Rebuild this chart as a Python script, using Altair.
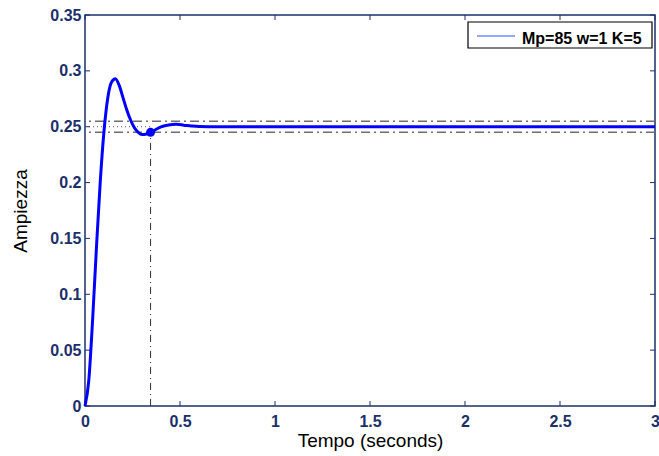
import altair as alt
import pandas as pd

# ---- data ----
time_s = [0.00, 0.02, 0.04, 0.06, 0.08, 0.10, 0.12, 0.14, 0.16, 0.18,
          0.20, 0.22, 0.24, 0.26, 0.28, 0.30, 0.32, 0.34, 0.36, 0.38,
          0.40, 0.44, 0.48, 0.52, 0.56, 0.60, 0.70, 0.80, 1.00, 1.50,
          2.00, 2.50, 3.00]
amplitude = [0.000, 0.023, 0.077, 0.141, 0.200, 0.246, 0.276, 0.290, 0.293, 0.287,
             0.276, 0.265, 0.256, 0.249, 0.245, 0.243, 0.2432, 0.2445, 0.2463, 0.2482,
             0.2498, 0.2516, 0.2521, 0.2514, 0.2506, 0.2501, 0.2499, 0.2500, 0.2500, 0.2500,
             0.2500, 0.2500, 0.2500]
series_label = "Mp=85 w=1 K=5"
final_value = [0.25]
band_levels = [0.255, 0.245]
settle_time = [0.345]
settle_value = [0.245]
x_ticks = [0, 0.5, 1, 1.5, 2, 2.5, 3]
y_ticks = [0, 0.05, 0.1, 0.15, 0.2, 0.25, 0.3, 0.35]

# ---- layout / style ----
W, H = 570, 391
NAVY = "#1b2f6b"
BLUE = "#0000ff"
FONT = "Liberation Sans"

x_scale = alt.Scale(domain=[0, 3], nice=False, zero=False)
y_scale = alt.Scale(domain=[0, 0.35], nice=False, zero=False)

x_axis = alt.Axis(values=x_ticks, format="~g", title="Tempo (seconds)",
                  labelFont=FONT, labelFontWeight="bold", labelFontSize=16,
                  labelColor=NAVY, ticks=False, domain=False, grid=False,
                  labelPadding=7, labelFlush=False, labelOverlap=False,
                  titleFont=FONT, titleFontSize=19, titleFontWeight="normal",
                  titleColor="black", titlePadding=2)
y_axis = alt.Axis(values=y_ticks, format="~g", title="Ampiezza",
                  labelFont=FONT, labelFontWeight="bold", labelFontSize=16,
                  labelColor=NAVY, ticks=False, domain=False, grid=False,
                  labelPadding=4, labelFlush=False, labelOverlap=False,
                  titleFont=FONT, titleFontSize=19, titleFontWeight="normal",
                  titleColor="black", titlePadding=19)

resp = pd.DataFrame({"t": time_s, "y": amplitude})
bands = pd.DataFrame({"level": band_levels})
settle = pd.DataFrame({"t0": [0.0], "t": settle_time, "y": settle_value,
                       "yf": final_value, "y0": [0.0]})
xt = pd.DataFrame({"v": x_ticks})
yt = pd.DataFrame({"v": y_ticks})
leg = pd.DataFrame({"label": [series_label]})

base_x = alt.X("t:Q", scale=x_scale, axis=x_axis)
base_y = alt.Y("y:Q", scale=y_scale, axis=y_axis)

curve = alt.Chart(resp).mark_line(color=BLUE, strokeWidth=3, interpolate="monotone").encode(
    x=base_x, y=base_y)

band_rules = alt.Chart(bands).mark_rule(color="#6e6e6e", strokeWidth=1.5,
                                        strokeDash=[9, 4, 2, 4]).encode(
    y=alt.Y("level:Q", scale=y_scale))

dotted = alt.Chart(settle).mark_rule(color="#555555", strokeWidth=1,
                                     strokeDash=[1, 3]).encode(
    x=alt.X("t0:Q", scale=x_scale), x2="t:Q", y=alt.Y("yf:Q", scale=y_scale))

vline = alt.Chart(settle).mark_rule(color="#333333", strokeWidth=1,
                                    strokeDash=[7, 4, 1, 4]).encode(
    x=alt.X("t:Q", scale=x_scale), y=alt.Y("y0:Q", scale=y_scale), y2="y:Q")

point = alt.Chart(settle).mark_circle(size=80, color=BLUE, opacity=1).encode(
    x=alt.X("t:Q", scale=x_scale), y=alt.Y("y:Q", scale=y_scale))

tick_bottom = alt.Chart(xt).mark_rule(color=NAVY, strokeWidth=1).encode(
    x=alt.X("v:Q", scale=x_scale), y=alt.value(H), y2=alt.value(H - 5))
tick_top = alt.Chart(xt).mark_rule(color=NAVY, strokeWidth=1).encode(
    x=alt.X("v:Q", scale=x_scale), y=alt.value(0), y2=alt.value(5))
tick_left = alt.Chart(yt).mark_rule(color=NAVY, strokeWidth=1).encode(
    y=alt.Y("v:Q", scale=y_scale), x=alt.value(0), x2=alt.value(5))
tick_right = alt.Chart(yt).mark_rule(color=NAVY, strokeWidth=1).encode(
    y=alt.Y("v:Q", scale=y_scale), x=alt.value(W - 5), x2=alt.value(W))

leg_box = alt.Chart(leg).mark_rect(fill="white", stroke="black", strokeWidth=1.2).encode(
    x=alt.value(383), x2=alt.value(567), y=alt.value(7), y2=alt.value(33))
leg_line = alt.Chart(leg).mark_rule(color="#3050ff", strokeWidth=1).encode(
    x=alt.value(392), x2=alt.value(430), y=alt.value(21))
leg_text = alt.Chart(leg).mark_text(align="left", baseline="alphabetic", font=FONT,
                                    fontWeight="bold", fontSize=16, color="black").encode(
    x=alt.value(437), y=alt.value(29), text="label:N")

chart = alt.layer(
    tick_bottom, tick_top, tick_left, tick_right,
    band_rules, dotted, vline, curve, point,
    leg_box, leg_line, leg_text,
).properties(
    width=W, height=H,
    autosize=alt.AutoSizeParams(type="none"),
    padding={"left": 85, "top": 15, "right": 4, "bottom": 50},
    background="white",
).configure_view(stroke=NAVY, strokeWidth=1.5)

chart.save("out.html", embed_options={"renderer": "svg", "actions": False})
